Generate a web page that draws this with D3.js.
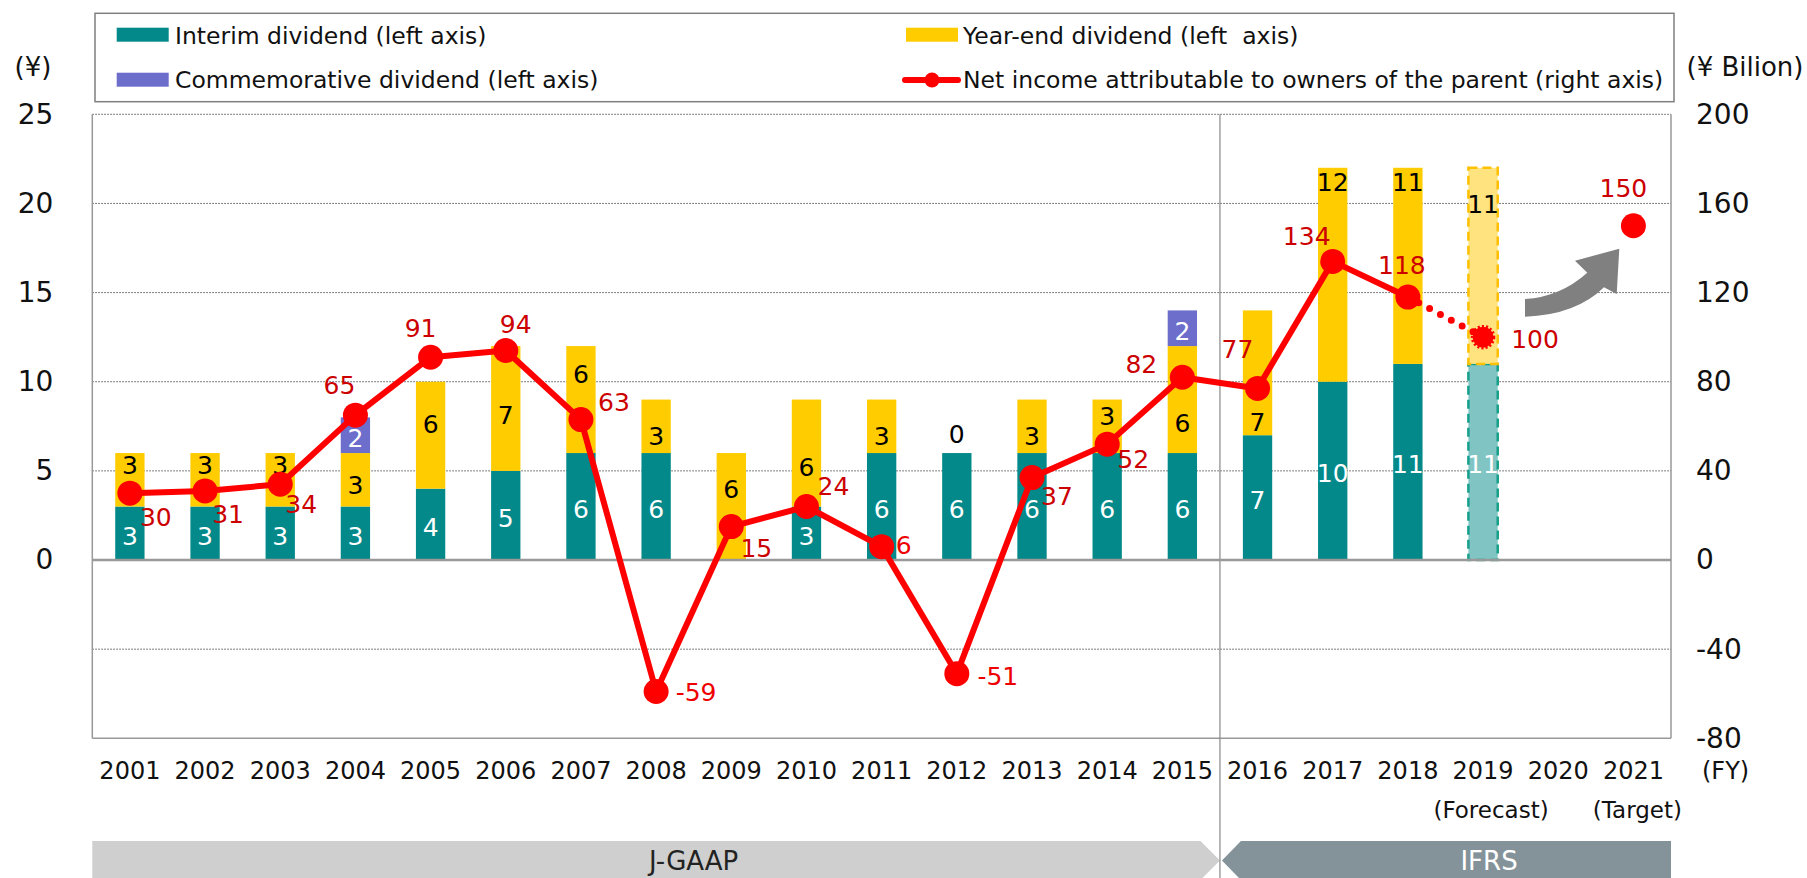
<!DOCTYPE html>
<html><head><meta charset="utf-8">
<script src="https://cdn.jsdelivr.net/npm/d3@7"></script>
<style>
html,body{margin:0;padding:0;background:#fff;}
svg{display:block;font-family:"DejaVu Sans",Verdana,sans-serif;}
text{white-space:pre;}
</style></head><body>
<svg id="chart" width="1807" height="878"></svg>
<script>
// ---------------- DATA ----------------
const years = ["2001","2002","2003","2004","2005","2006","2007","2008","2009","2010","2011","2012","2013","2014","2015","2016","2017","2018","2019","2020","2021"];
const interim       = [3,3,3,3,4,5,6,6,0,3,6,6,6,6,6,7,10,11,11,null,null];
const yearEnd       = [3,3,3,3,6,7,6,3,6,6,3,0,3,3,6,7,12,11,11,null,null];
const commemorative = [0,0,0,2,0,0,0,0,0,0,0,0,0,0,2,0,0,0,0,null,null];
const netIncome     = [30,31,34,65,91,94,63,-59,15,24,6,-51,37,52,82,77,134,118,100,null,150];
const leftTicks  = [0,5,10,15,20,25];
const rightTicks = [-80,-40,0,40,80,120,160,200];
const gridValues = [-5,5,10,15,20,25];
const forecastYear = "2019";
const targetYear = "2021";
const yearNotes = {"2019":"(Forecast)","2021":"(Target)"};
const legendItems = ["Interim dividend (left axis)","Commemorative dividend (left axis)","Year-end dividend (left  axis)","Net income attributable to owners of the parent (right axis)"];
const periods = ["J-GAAP","IFRS"];
const lastJGAAPYear = "2015";

// ---------------- LAYOUT (manual label nudges, px) ----------------
const yeNudge = {"2001":-15,"2002":-15,"2003":-15,"2004":5,"2005":-11,"2006":7,"2007":-26,"2008":10,"2009":-18,"2010":14,"2011":10,"2013":10,"2014":-10,"2015":23,"2016":49,"2017":-93,"2018":-84,"2019":-62};
const niNudge = {"2001":[26,24],"2002":[23,23],"2003":[21,20],"2004":[-16,-30],"2005":[-10,-29],"2006":[10,-27],"2007":[33,-18],"2008":[40,0],"2009":[25,21],"2010":[27,-21],"2011":[22,-2],"2012":[41,2],"2013":[25,18],"2014":[26,15],"2015":[-41,-13],"2016":[-20,-39],"2017":[-26,-25],"2018":[-6,-32],"2019":[52,2],"2021":[-10,-38]};

const C = {teal:"#03898a", yellow:"#ffcc00", purple:"#6d6dcc", red:"#ff0000", redText:"#cc0000"};
const fmt = d => String(d);

const svg = d3.select("#chart");
const L = 92.3, R = 1671, T = 114.3, B = 738.3;

const x = d3.scaleBand().domain(years).range([L, R]).paddingInner(0.61).paddingOuter(0.305);
const yL = d3.scaleLinear().domain([-10, 25]).range([B, T]);
const yR = d3.scaleLinear().domain([-80, 200]).range([B, T]);
const cx = d => x(d) + x.bandwidth()/2;

// gridlines
svg.append("g").selectAll("line").data(gridValues).join("line")
  .attr("x1", L).attr("x2", R).attr("y1", d=>yL(d)).attr("y2", d=>yL(d))
  .attr("stroke", "#555").attr("stroke-width", 1).attr("stroke-dasharray", "1.5 1.5");

// frame
svg.append("line").attr("x1",L).attr("x2",L).attr("y1",T).attr("y2",B).attr("stroke","#999").attr("stroke-width",1.5);
svg.append("line").attr("x1",R).attr("x2",R).attr("y1",T).attr("y2",B).attr("stroke","#999").attr("stroke-width",1.5);
svg.append("line").attr("x1",L).attr("x2",R).attr("y1",B).attr("y2",B).attr("stroke","#999").attr("stroke-width",1.5);

// period bands
const divX = (x(lastJGAAPYear) + x.bandwidth() + x(years[years.indexOf(lastJGAAPYear)+1]))/2;
const bTop = 841, bBot = 880, bMid = (bTop+bBot)/2;
svg.append("path").attr("d", `M${L},${bTop}H${divX-19.5}L${divX},${bMid}L${divX-19.5},${bBot}H${L}Z`).attr("fill","#cfcfcf");
svg.append("path").attr("d", `M${divX+21},${bTop}H${R}V${bBot}H${divX+21}L${divX+2},${bMid}Z`).attr("fill","#84939a");
svg.append("text").attr("x", x("2008")+x.bandwidth()/2 + x.step()/2).attr("y", bMid+9.5).attr("text-anchor","middle").attr("font-size",26).attr("fill","#222").text(periods[0]);
svg.append("text").attr("x", cx("2019")+6).attr("y", bMid+9.5).attr("text-anchor","middle").attr("font-size",26).attr("fill","#fff").text(periods[1]);

// divider
svg.append("line").attr("x1",divX).attr("x2",divX).attr("y1",T).attr("y2",878).attr("stroke","#888").attr("stroke-width",1.2);

// stacked bars
const rows = years.map((yr,i)=>({yr,i,a:interim[i],b:yearEnd[i],c:commemorative[i]})).filter(d=>d.a!==null);
const gBars = svg.append("g");
rows.forEach(d=>{
  const fc = d.yr===forecastYear;
  const segs = [
    {v0:0, v1:d.a, fill: fc?"#80c4c3":C.teal, stroke: fc?"#16a08c":null},
    {v0:d.a, v1:d.a+d.b, fill: fc?"#ffe37f":C.yellow, stroke: fc?"#ffc000":null},
    {v0:d.a+d.b, v1:d.a+d.b+d.c, fill:C.purple, stroke:null}
  ];
  segs.forEach(s=>{
    if (s.v1 - s.v0 <= 0) return;
    const r = gBars.append("rect").attr("x", x(d.yr)).attr("width", x.bandwidth())
      .attr("y", yL(s.v1)).attr("height", yL(s.v0)-yL(s.v1)).attr("fill", s.fill);
    if (s.stroke) r.attr("stroke", s.stroke).attr("stroke-width",2.5).attr("stroke-dasharray","9 5");
  });
});
// zero line
svg.append("line").attr("x1",L).attr("x2",R).attr("y1",yL(0)).attr("y2",yL(0)).attr("stroke","#999").attr("stroke-width",2.5);

// bar labels
const gBL = svg.append("g").attr("font-size",25).attr("text-anchor","middle");
rows.forEach(d=>{
  const xc = cx(d.yr);
  if (d.a>0) gBL.append("text").attr("x",xc).attr("y",(yL(0)+yL(d.a))/2+11.5).attr("fill","#fff").text(d.a);
  if (d.b>0) gBL.append("text").attr("x",xc).attr("y",(yL(d.a)+yL(d.a+d.b))/2+9+(yeNudge[d.yr]||0)).attr("fill","#000").text(d.b);
  else gBL.append("text").attr("x",xc).attr("y",yL(d.a+d.b)-19.5+9).attr("fill","#000").text(d.b);
  if (d.c>0) gBL.append("text").attr("x",xc).attr("y",(yL(d.a+d.b)+yL(d.a+d.b+d.c))/2+11.5).attr("fill","#fff").text(d.c);
});

// net income line
const pts = years.map((yr,i)=>({yr,v:netIncome[i]})).filter(d=>d.v!==null);
const actual = pts.filter(d=>d.yr!==forecastYear && d.yr!==targetYear);
const fcPt = pts.find(d=>d.yr===forecastYear);
const tgPt = pts.find(d=>d.yr===targetYear);
const line = d3.line().x(d=>cx(d.yr)).y(d=>yR(d.v));
svg.append("path").attr("d", line(actual)).attr("fill","none").attr("stroke",C.red).attr("stroke-width",6).attr("stroke-linejoin","round");
svg.append("path").attr("d", line([actual[actual.length-1], fcPt])).attr("fill","none").attr("stroke",C.red)
  .attr("stroke-width",7).attr("stroke-linecap","round").attr("stroke-dasharray","0 12.3");
svg.append("g").selectAll("circle").data(actual.concat([tgPt])).join("circle")
  .attr("cx", d=>cx(d.yr)).attr("cy", d=>yR(d.v)).attr("r", 12.5).attr("fill", C.red);
svg.append("circle").attr("cx",cx(fcPt.yr)).attr("cy",yR(fcPt.v)).attr("r",10.5).attr("fill",C.red)
  .attr("stroke",C.red).attr("stroke-width",3.5).attr("stroke-dasharray","2 2");

// net income labels
svg.append("g").attr("font-size",25).attr("text-anchor","middle").selectAll("text").data(pts).join("text")
  .attr("x", d=>cx(d.yr)+niNudge[d.yr][0]).attr("y", d=>yR(d.v)+niNudge[d.yr][1]+9)
  .attr("fill", d=> d.v<0 || d.v===6 ? "#ee0000" : C.redText).text(d=>fmt(d.v));

// gray arrow
svg.append("path").attr("d","M1525,299 Q1560,297 1587.3,272.7 L1575,260.7 L1619.3,248.7 L1616.7,294 L1604,287.3 Q1576,315 1525,316.7 Z").attr("fill","#808080");

// axes
const axL = svg.append("g").attr("transform",`translate(${L-39},0)`)
  .call(d3.axisLeft(yL).tickValues(leftTicks).tickFormat(fmt).tickSize(0).tickPadding(0));
axL.select(".domain").remove();
axL.selectAll("text").attr("font-size",28).attr("font-family","DejaVu Sans").attr("fill","#111");
const axR = svg.append("g").attr("transform",`translate(${R},0)`)
  .call(d3.axisRight(yR).tickValues(rightTicks).tickFormat(fmt).tickSize(0).tickPadding(25));
axR.select(".domain").remove();
axR.selectAll("text").attr("font-size",28).attr("font-family","DejaVu Sans").attr("fill","#111");
const axB = svg.append("g").attr("transform",`translate(0,${B})`)
  .call(d3.axisBottom(x).tickSize(0).tickPadding(24));
axB.select(".domain").remove();
axB.selectAll("text").attr("font-size",24).attr("font-family","DejaVu Sans").attr("fill","#111");
svg.append("text").attr("x",1702).attr("y",779).attr("font-size",24).attr("fill","#111").text("(FY)");
svg.append("g").attr("font-size",23).attr("text-anchor","middle").selectAll("text").data(Object.keys(yearNotes)).join("text")
  .attr("x", d=>cx(d)+(d==="2019"?8:4)).attr("y", 818).attr("fill","#111").text(d=>yearNotes[d]);

// unit labels
svg.append("text").attr("x",33).attr("y",76).attr("text-anchor","middle").attr("font-size",26).attr("fill","#111").text("(¥)");
svg.append("text").attr("x",1745).attr("y",76).attr("text-anchor","middle").attr("font-size",26).attr("fill","#111").text("(¥ Bilion)");

// legend
svg.append("rect").attr("x",95).attr("y",13.3).attr("width",1674-95).attr("height",88.4).attr("fill","#fff").attr("stroke","#7f7f7f").attr("stroke-width",1.5);
const lg = svg.append("g").attr("font-size",23.5).attr("fill","#111");
lg.append("rect").attr("x",116.7).attr("y",27.7).attr("width",52).attr("height",14).attr("fill",C.teal);
lg.append("text").attr("x",175).attr("y",44).text(legendItems[0]);
lg.append("rect").attr("x",116.7).attr("y",72.7).attr("width",52).attr("height",14).attr("fill",C.purple);
lg.append("text").attr("x",175).attr("y",88).text(legendItems[1]);
lg.append("rect").attr("x",906).attr("y",27.7).attr("width",52).attr("height",14).attr("fill",C.yellow);
lg.append("text").attr("x",963).attr("y",44).text(legendItems[2]);
lg.append("line").attr("x1",905).attr("x2",958).attr("y1",80).attr("y2",80).attr("stroke",C.red).attr("stroke-width",6).attr("stroke-linecap","round");
lg.append("circle").attr("cx",932).attr("cy",80).attr("r",7.5).attr("fill",C.red);
lg.append("text").attr("x",963).attr("y",88).text(legendItems[3]);
</script>
</body></html>
